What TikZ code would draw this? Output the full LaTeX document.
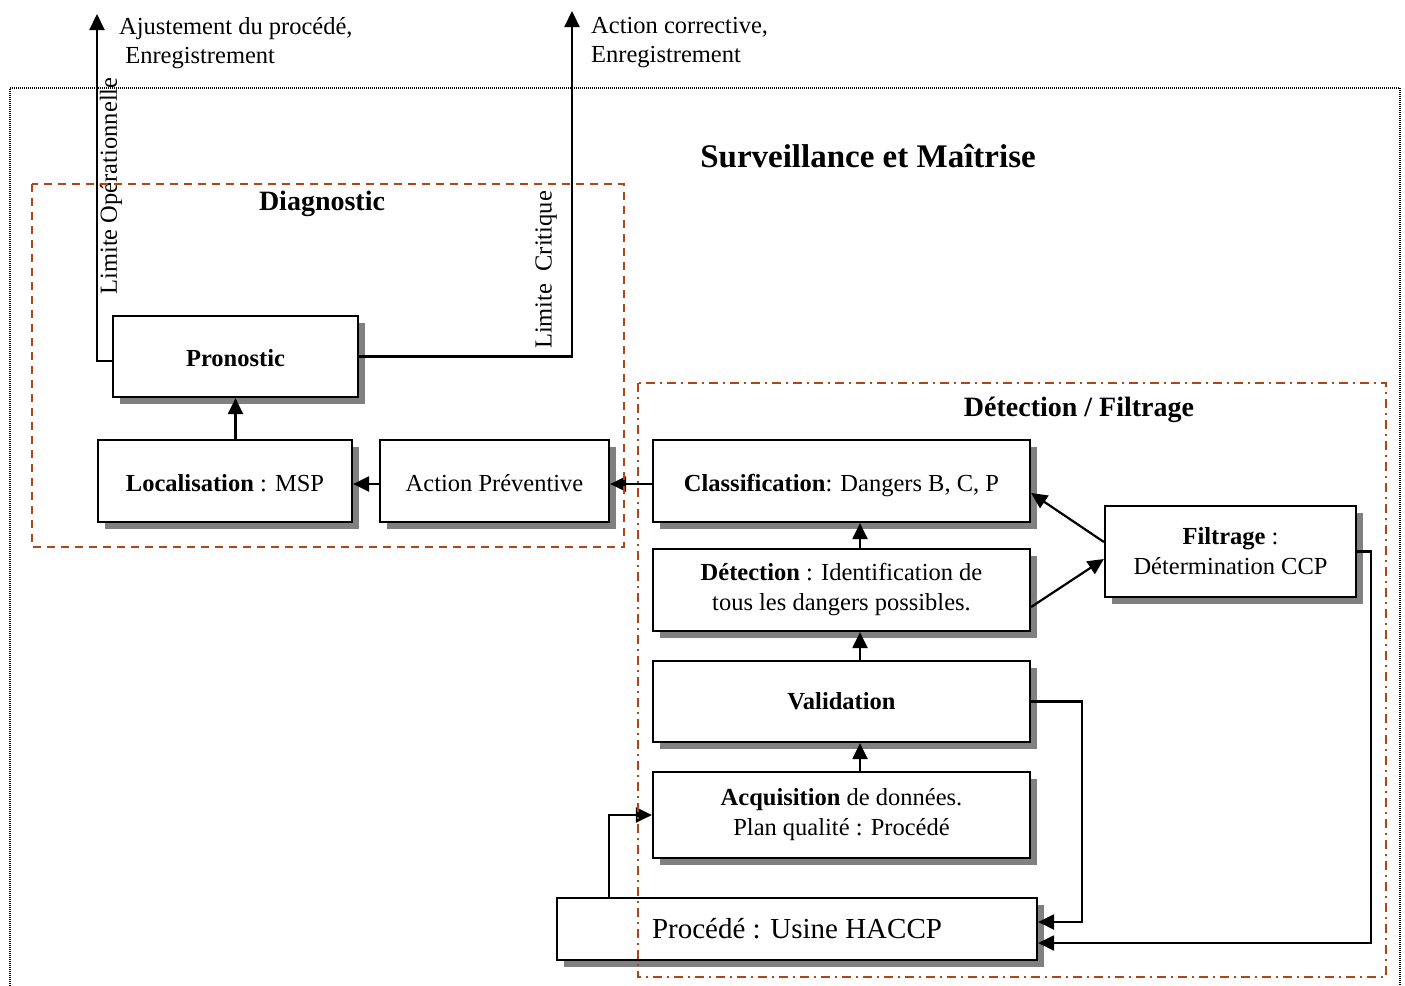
\documentclass[tikz,border=0pt]{standalone}
\usepackage{fontspec}
\setmainfont{Liberation Serif}
\usetikzlibrary{arrows.meta,shadows,calc}

\definecolor{framebrown}{RGB}{176,70,24}
\definecolor{shadowgray}{RGB}{128,128,128}

\tikzset{
  txt/.style={font=\fontsize{24.5}{30}\selectfont, inner sep=0pt, align=center},
  stage/.style={txt, draw, line width=2.2pt, fill=white,
    drop shadow={shadow xshift=7pt, shadow yshift=-7pt, fill=shadowgray, opacity=1}},
  oneline/.style={text height=22pt, text depth=2pt},
  title/.style={font=\fontsize{28}{32}\selectfont\bfseries, inner sep=0pt},
  link/.style={line width=2.2pt, -{Triangle[length=16pt,width=15pt]}},
  sidelabel/.style={font=\fontsize{24.5}{29}\selectfont, inner sep=0pt, align=left},
  groupdiag/.style={draw=framebrown, line width=2pt, dash pattern=on 8pt off 6pt},
  groupdet/.style={draw=framebrown, line width=2pt, dash pattern=on 9pt off 5pt on 2pt off 5pt},
  outer/.style={draw=black, line width=1.8pt, dash pattern=on 1pt off 1pt}
}

\begin{document}
\begin{tikzpicture}[x=1pt, y=-1pt]
\useasboundingbox (0,0) rectangle (1405,985);

% stage boxes
\node[stage, oneline, minimum width=245pt, minimum height=81pt, font=\fontsize{24.5}{30}\selectfont\bfseries] (pron) at (235.5,356.5) {Pronostic};
\node[stage, oneline, minimum width=254pt, minimum height=82pt] (loc) at (225,481) {\textbf{Localisation} : MSP};
\node[stage, oneline, minimum width=229pt, minimum height=82pt] (act) at (494.5,481) {Action Préventive};
\node[stage, oneline, minimum width=377pt, minimum height=82pt] (cls) at (841.5,481) {\textbf{Classification}: Dangers B, C, P};
\node[stage, minimum width=377pt, minimum height=82pt] (det) at (841.5,590) {\textbf{Détection} : Identification de\\tous les dangers possibles.};
\node[stage, minimum width=377pt, minimum height=81pt, font=\fontsize{24.5}{30}\selectfont\bfseries] (val) at (841.5,701.5) {Validation};
\node[stage, minimum width=377pt, minimum height=86pt] (acq) at (841.5,815) {\textbf{Acquisition} de données.\\Plan qualité : Procédé};
\node[stage, minimum width=251pt, minimum height=91pt] (fil) at (1230.5,551.5) {\textbf{Filtrage} :\\Détermination CCP};
\node[stage, minimum width=480pt, minimum height=62pt, font=\fontsize{29}{34}\selectfont] (proc) at (797,929) {Procédé : Usine HACCP};

% free ends and bends of the connectors
\coordinate (topL) at (97,14);
\coordinate (topR) at (572,11);
\coordinate (vx) at (1082,922);
\coordinate (fx) at (1371,943);
\coordinate (px) at (609,815);

% outputs of the diagnostic
\draw[link] ([yshift=-4.5pt]pron.west) -| (topL);
\draw[link] (pron.east) -| (topR);

% diagnostic chain
\draw[link] (pron.south |- loc.north) -- (pron.south);
\draw[link] ([yshift=-3pt]act.west) -- ([yshift=-3pt]loc.east);
\draw[link] ([yshift=-3pt]cls.west) -- ([yshift=-3pt]act.east);

% detection chain
\draw[link] ([xshift=18.5pt]det.north) -- ([xshift=18.5pt]cls.south);
\draw[link] ([xshift=18.5pt]val.north) -- ([xshift=18.5pt]det.south);
\draw[link] ([xshift=18.5pt]acq.north) -- ([xshift=18.5pt]val.south);
\draw[link] ([yshift=9.5pt]fil.west) -- ([yshift=-12pt]cls.east);
\draw[link] ([yshift=-17pt]det.east) -- ([yshift=-7.5pt]fil.west);

% feedback to the process
\draw[link] (val.east) -| (vx) -- ([yshift=7pt]proc.east);
\draw[link] (fil.east) -| (fx) -- ([yshift=-14pt]proc.east);
\draw[link] (proc.north -| px) -- (px) -- (acq.west);

% labels
\node[sidelabel, anchor=north west] (lblL) at (119,17) {Ajustement du procédé,\\\hspace{0.25em}Enregistrement};
\node[sidelabel, anchor=north west] (lblR) at (591,17) {Action corrective,\\Enregistrement};
\node[sidelabel, rotate=90] (limop) at (111,186) {Limite Opérationnelle};
\node[sidelabel, rotate=90] (limcr) at (546,270) {Limite\ \ Critique};

% titles
\node[title, font=\fontsize{33}{38}\selectfont\bfseries] (tsurv) at (868,156) {Surveillance et Maîtrise};
\node[title] (tdiag) at (322,204) {Diagnostic};
\node[title] (tdet) at (1079,410) {Détection / Filtrage};

% group frames
\draw[groupdiag] (32,184) rectangle (624,547);
\draw[groupdet] (638,383) rectangle (1386,977);
\draw[outer] (10,990) -- (10,88) -- (1400,88) -- (1400,990);
\end{tikzpicture}
\end{document}
